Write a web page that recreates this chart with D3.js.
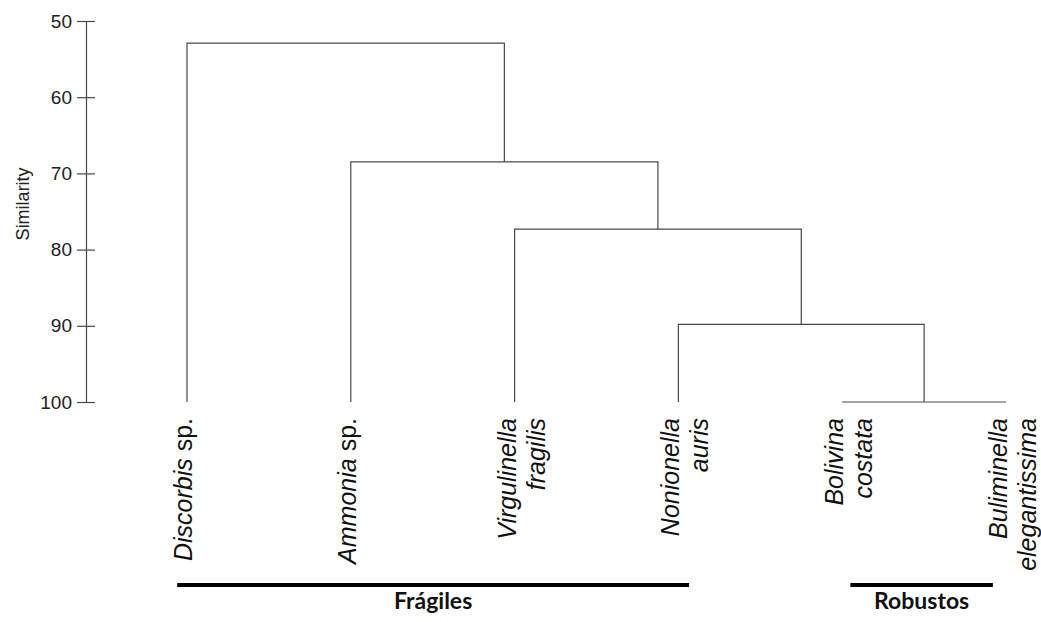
<!DOCTYPE html>
<html>
<head>
<meta charset="utf-8">
<script src="https://cdn.jsdelivr.net/npm/d3@7"></script>
<style>
   body { margin: 0; background: #fff; }
   svg { display: block; }
   .link { fill: none; stroke: #4a4a4a; stroke-width: 1.2; }
   .axis path, .axis line { stroke: #4a4a4a; stroke-width: 1.2; }
   .axis text { font-family: "Liberation Sans", Arial, sans-serif; font-size: 19px; fill: #222; }
</style>
</head>
<body>
<svg id="chart" width="1041" height="622"></svg>
<script>
// leaves, left to right; each label is split into lines, [text, italic]
const leafNames = ["Discorbis", "Ammonia", "Virgulinella", "Nonionella", "Bolivina", "Buliminella"];
const leafLines = [
   [[["Discorbis", true], [" sp.", false]]],
   [[["Ammonia", true], [" sp.", false]]],
   [[["Virgulinella", true]], [["fragilis", true]]],
   [[["Nonionella", true]], [["auris", true]]],
   [[["Bolivina", true]], [["costata", true]]],
   [[["Buliminella", true]], [["elegantissima", true]]],
];

// merges: [left child, right child, similarity]; children 0-5 are leaves, 6+ earlier merges
const merges = [
   [4, 5, 100],
   [3, 6, 89.8],
   [2, 7, 77.3],
   [1, 8, 68.5],
   [0, 9, 52.9],
];

const yTicks = [50, 60, 70, 80, 90, 100];

// groups span leaf positions (in leaf index units)
const groupNames = ["Frágiles", "Robustos"];
const groupFrom = [-0.06, 4.05];
const groupTo = [3.065, 4.92];

const svg = d3.select("#chart");

const x = d3.scalePoint().domain(leafNames).range([187, 1006]);
const xi = d3.scaleLinear().domain([0, leafNames.length - 1]).range([187, 1006]);
const y = d3.scaleLinear().domain([50, 100]).range([21, 402]);

// y axis
const axis = svg.append("g")
   .attr("class", "axis")
   .attr("transform", "translate(86,0)")
   .call(d3.axisLeft(y).tickValues(yTicks).tickSize(9).tickPadding(5).tickSizeOuter(0));
axis.selectAll(".tick line").attr("x2", 9).attr("x1", -9);

svg.append("text")
   .attr("transform", `translate(29,${y(74)}) rotate(-90)`)
   .attr("text-anchor", "middle")
   .style("font-family", "Liberation Sans, Arial, sans-serif")
   .style("font-size", "18px")
   .attr("fill", "#222")
   .text("Similarity");

// node positions
const nodes = leafNames.map(n => ({ x: x(n), h: 100 }));
merges.forEach(([a, b, h]) => {
   nodes.push({ x: (nodes[a].x + nodes[b].x) / 2, h: h, a: a, b: b });
});

const links = svg.append("g");
nodes.forEach(nd => {
   if (nd.a === undefined) return;
   const A = nodes[nd.a], B = nodes[nd.b];
   links.append("path")
      .attr("class", "link")
      .attr("d", `M${A.x},${y(A.h)}V${y(nd.h)}H${B.x}V${y(B.h)}`);
});

// leaf labels
leafNames.forEach((n, i) => {
   const lines = leafLines[i];
   lines.forEach((parts, li) => {
      const dx = lines.length === 1 ? 5 : 1 + li * 29;
      const t = svg.append("text")
         .attr("transform", `translate(${x(n) + dx},418) rotate(-90)`)
         .attr("text-anchor", "end")
         .style("font-family", "Liberation Sans, Arial, sans-serif")
         .style("font-size", "25px")
         .attr("fill", "#111");
      parts.forEach(([s, it]) => {
         t.append("tspan").style("font-style", it ? "italic" : "normal").text(s);
      });
   });
});

// group bars
groupNames.forEach((g, i) => {
   const x0 = xi(groupFrom[i]), x1 = xi(groupTo[i]);
   svg.append("line")
      .attr("x1", x0).attr("x2", x1)
      .attr("y1", 585).attr("y2", 585)
      .attr("stroke", "#000")
      .attr("stroke-width", 4);
   svg.append("text")
      .attr("x", (x0 + x1) / 2)
      .attr("y", 609)
      .attr("text-anchor", "middle")
      .style("font-family", "Lato, 'Liberation Sans', sans-serif")
      .style("font-weight", "bold")
      .style("font-size", "23px")
      .attr("fill", "#111")
      .text(g);
});
</script>
</body>
</html>
